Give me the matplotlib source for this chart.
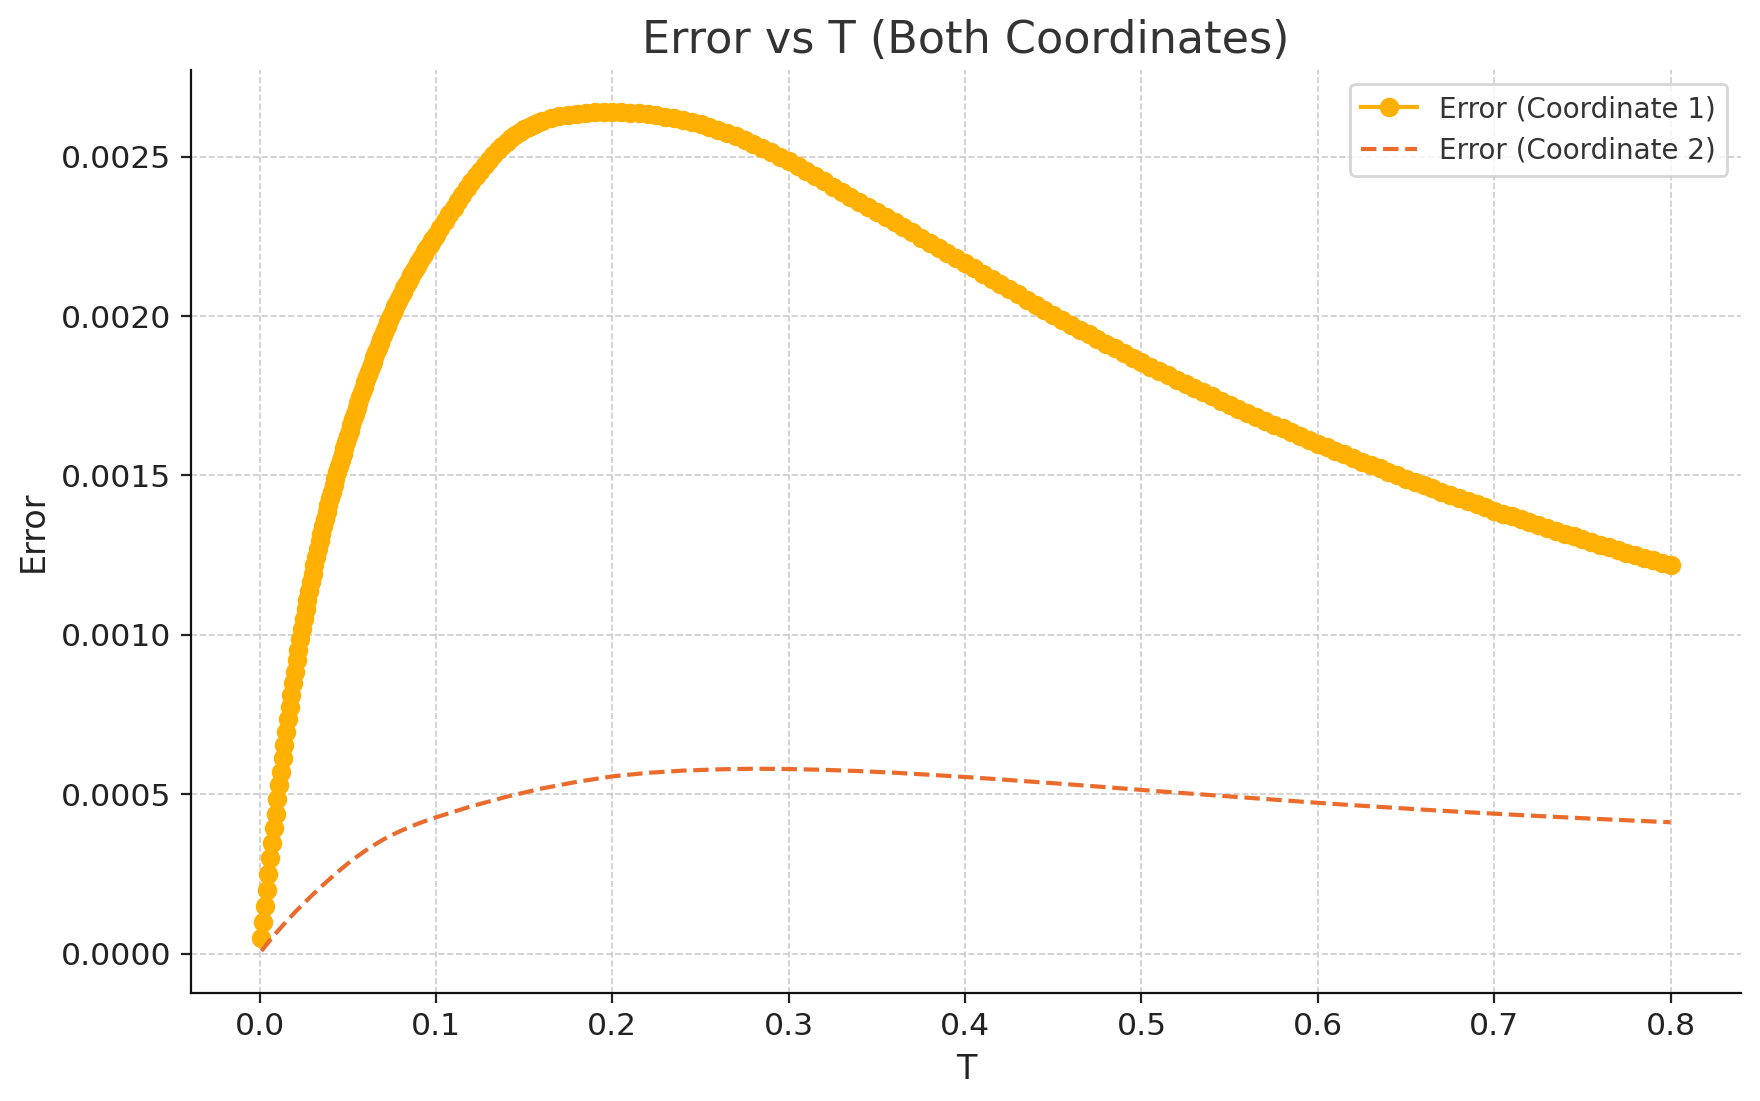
import numpy as np
import matplotlib
matplotlib.use("Agg")
import matplotlib.pyplot as plt

# ---------------- data ----------------
title = "Error vs T (Both Coordinates)"
xlabel = "T"
ylabel = "Error"
label1 = "Error (Coordinate 1)"
label2 = "Error (Coordinate 2)"

# sample times of coordinate-1 series (dense sampling)
t1 = np.concatenate([
    np.round(np.arange(1, 101) * 0.001, 4),       # 0.001 .. 0.100
    np.round(np.arange(41, 65) * 0.0025, 4),      # 0.1025 .. 0.160
    np.round(np.arange(33, 161) * 0.005, 4),      # 0.165 .. 0.800
])

# coordinate-1 error, in units of 1e-6
err1_micro = [
    # 0.001 .. 0.060
    48.0, 99.6, 150.5, 200.6, 250.0, 298.5, 346.2, 393.0, 438.9, 483.9,
    527.9, 571.1, 613.4, 654.9, 695.5, 735.2, 774.0, 811.9, 848.9, 884.9,
    919.9, 953.9, 986.9, 1018.9, 1049.9, 1079.9, 1109.1, 1137.5, 1165.1, 1192.0,
    1218.2, 1243.8, 1268.8, 1293.2, 1317.0, 1340.2, 1362.9, 1385.1, 1406.8, 1428.1,
    1449.0, 1469.5, 1489.6, 1509.4, 1528.9, 1548.1, 1567.1, 1585.8, 1604.3, 1622.6,
    1640.7, 1658.6, 1676.3, 1693.8, 1711.1, 1728.2, 1745.1, 1761.8, 1778.3, 1794.6,
    # 0.061 .. 0.100
    1810.4, 1826.0, 1841.3, 1856.4, 1871.2, 1885.8, 1900.1, 1914.2, 1928.0, 1941.6,
    1955.0, 1968.2, 1981.1, 1993.8, 2006.2, 2018.4, 2030.4, 2042.2, 2053.7, 2065.0,
    2076.1, 2087.0, 2097.6, 2108.0, 2118.2, 2128.2, 2138.1, 2147.8, 2157.4, 2166.8,
    2176.1, 2185.2, 2194.3, 2203.2, 2212.1, 2220.8, 2229.5, 2238.0, 2246.5, 2254.8,
    # 0.1025 .. 0.160
    2276.7, 2298.0, 2319.5, 2340.5, 2361.0, 2381.0, 2400.5, 2419.5, 2438.0, 2456.0,
    2473.5, 2490.5, 2506.0, 2520.5, 2534.0, 2546.5, 2558.0, 2568.5, 2578.0, 2586.5,
    2594.0, 2600.5, 2606.3, 2611.5,
    # 0.165 .. 0.200
    2620.0, 2626.5, 2631.5, 2635.0, 2637.5, 2639.0, 2640.0, 2640.3,
    # 0.205 .. 0.300
    2639.6, 2638.5, 2636.5, 2633.8, 2630.3, 2626.1, 2621.0, 2615.2, 2608.6, 2601.3,
    2593.1, 2584.2, 2574.5, 2564.0, 2552.8, 2540.8, 2528.0, 2514.5, 2500.1, 2485.0,
    # 0.305 .. 0.400
    2469.4, 2453.8, 2438.1, 2422.3, 2406.5, 2390.6, 2374.7, 2358.7, 2342.7, 2326.7,
    2310.6, 2294.5, 2278.4, 2262.3, 2246.2, 2230.1, 2214.0, 2197.9, 2181.8, 2165.7,
    # 0.405 .. 0.500
    2149.4, 2133.1, 2116.8, 2100.5, 2084.3, 2068.1, 2052.0, 2035.9, 2019.8, 2003.7,
    1988.2, 1972.9, 1957.8, 1942.8, 1928.0, 1913.3, 1898.7, 1884.3, 1870.0, 1855.7,
    # 0.505 .. 0.600
    1841.7, 1827.9, 1814.2, 1800.7, 1787.3, 1774.0, 1760.8, 1747.7, 1734.7, 1721.8,
    1709.1, 1696.5, 1684.0, 1671.7, 1659.5, 1647.4, 1635.4, 1623.5, 1611.7, 1599.9,
    # 0.605 .. 0.700
    1588.4, 1577.0, 1565.8, 1554.7, 1543.7, 1532.8, 1522.0, 1511.3, 1500.6, 1490.0,
    1479.6, 1469.3, 1459.1, 1449.0, 1439.0, 1429.0, 1419.1, 1409.3, 1399.6, 1390.0,
    # 0.705 .. 0.800
    1380.6, 1371.3, 1362.1, 1353.0, 1344.0, 1335.0, 1326.1, 1317.3, 1308.6, 1300.0,
    1291.5, 1283.1, 1274.7, 1266.4, 1258.2, 1250.0, 1241.9, 1233.9, 1225.9, 1218.0,
]

# sample times of coordinate-2 series
t2 = [0.001, 0.005, 0.010, 0.015, 0.020, 0.025, 0.030, 0.035, 0.040, 0.045,
      0.050, 0.055, 0.060, 0.065, 0.070, 0.075, 0.080, 0.085, 0.090, 0.095,
      0.100, 0.12, 0.14, 0.16, 0.18, 0.20, 0.22, 0.24, 0.26, 0.28,
      0.30, 0.32, 0.34, 0.36, 0.38, 0.40, 0.42, 0.44, 0.46, 0.48,
      0.50, 0.52, 0.54, 0.56, 0.58, 0.60, 0.62, 0.64, 0.66, 0.68,
      0.70, 0.72, 0.74, 0.76, 0.78, 0.80]

# coordinate-2 error, in units of 1e-6
err2_micro = [8, 36, 69, 100, 129.5, 157.5, 184.5, 210.5, 235.5, 259.5,
              282.5, 303.5, 323, 341, 357.5, 372, 385, 397, 408, 418,
              427.5, 462, 492, 518, 539, 556, 567, 574, 578, 580,
              579, 576.5, 572.5, 567.5, 561, 554, 546.5, 538.5, 530.5, 522,
              513.5, 505, 497, 489, 481, 473, 465.5, 458.5, 451.5, 445,
              439, 433, 427.5, 422, 417, 412]

assert len(t1) == len(err1_micro)
assert len(t2) == len(err2_micro)

err1 = np.asarray(err1_micro) * 1e-6
err2 = np.asarray(err2_micro) * 1e-6

# ---------------- styling ----------------
color1 = "#FFB000"
color2 = "#EA6B2C"
text_dark = "#333333"

plt.rcParams["font.family"] = ["DejaVu Sans"]

fig = plt.figure(figsize=(8.8, 5.505), dpi=200)
ax = fig.add_axes([0.1085, 0.0981, 0.8807, 0.8383])

ax.plot(t1, err1, marker="o", markersize=6.0, linewidth=1.5,
        color=color1, label=label1)
ax.plot(t2, err2, linestyle="--", linewidth=1.5, color=color2, label=label2)

ax.set_title(title, fontsize=16, color=text_dark)
ax.set_xlabel(xlabel, fontsize=12, color="#222222")
ax.set_ylabel(ylabel, fontsize=12, color="#222222")

ax.set_xticks([0.0, 0.1, 0.2, 0.3, 0.4, 0.5, 0.6, 0.7, 0.8])
ax.set_yticks([0.0, 0.0005, 0.0010, 0.0015, 0.0020, 0.0025])
ax.set_yticklabels(["0.0000", "0.0005", "0.0010", "0.0015", "0.0020", "0.0025"])
ax.tick_params(axis="both", labelsize=11.3, colors="#222222", length=3.5, width=0.8)

ax.grid(True, linestyle="--", linewidth=0.6, color="#cccccc")
ax.set_axisbelow(True)

for side in ("top", "right"):
    ax.spines[side].set_visible(False)
for side in ("left", "bottom"):
    ax.spines[side].set_color("#111111")
    ax.spines[side].set_linewidth(0.8)

leg = ax.legend(loc="upper right", fontsize=10, frameon=True, fancybox=True)
leg.get_frame().set_edgecolor("#cccccc")
for txt in leg.get_texts():
    txt.set_color(text_dark)

fig.savefig("out.png", dpi=200)
